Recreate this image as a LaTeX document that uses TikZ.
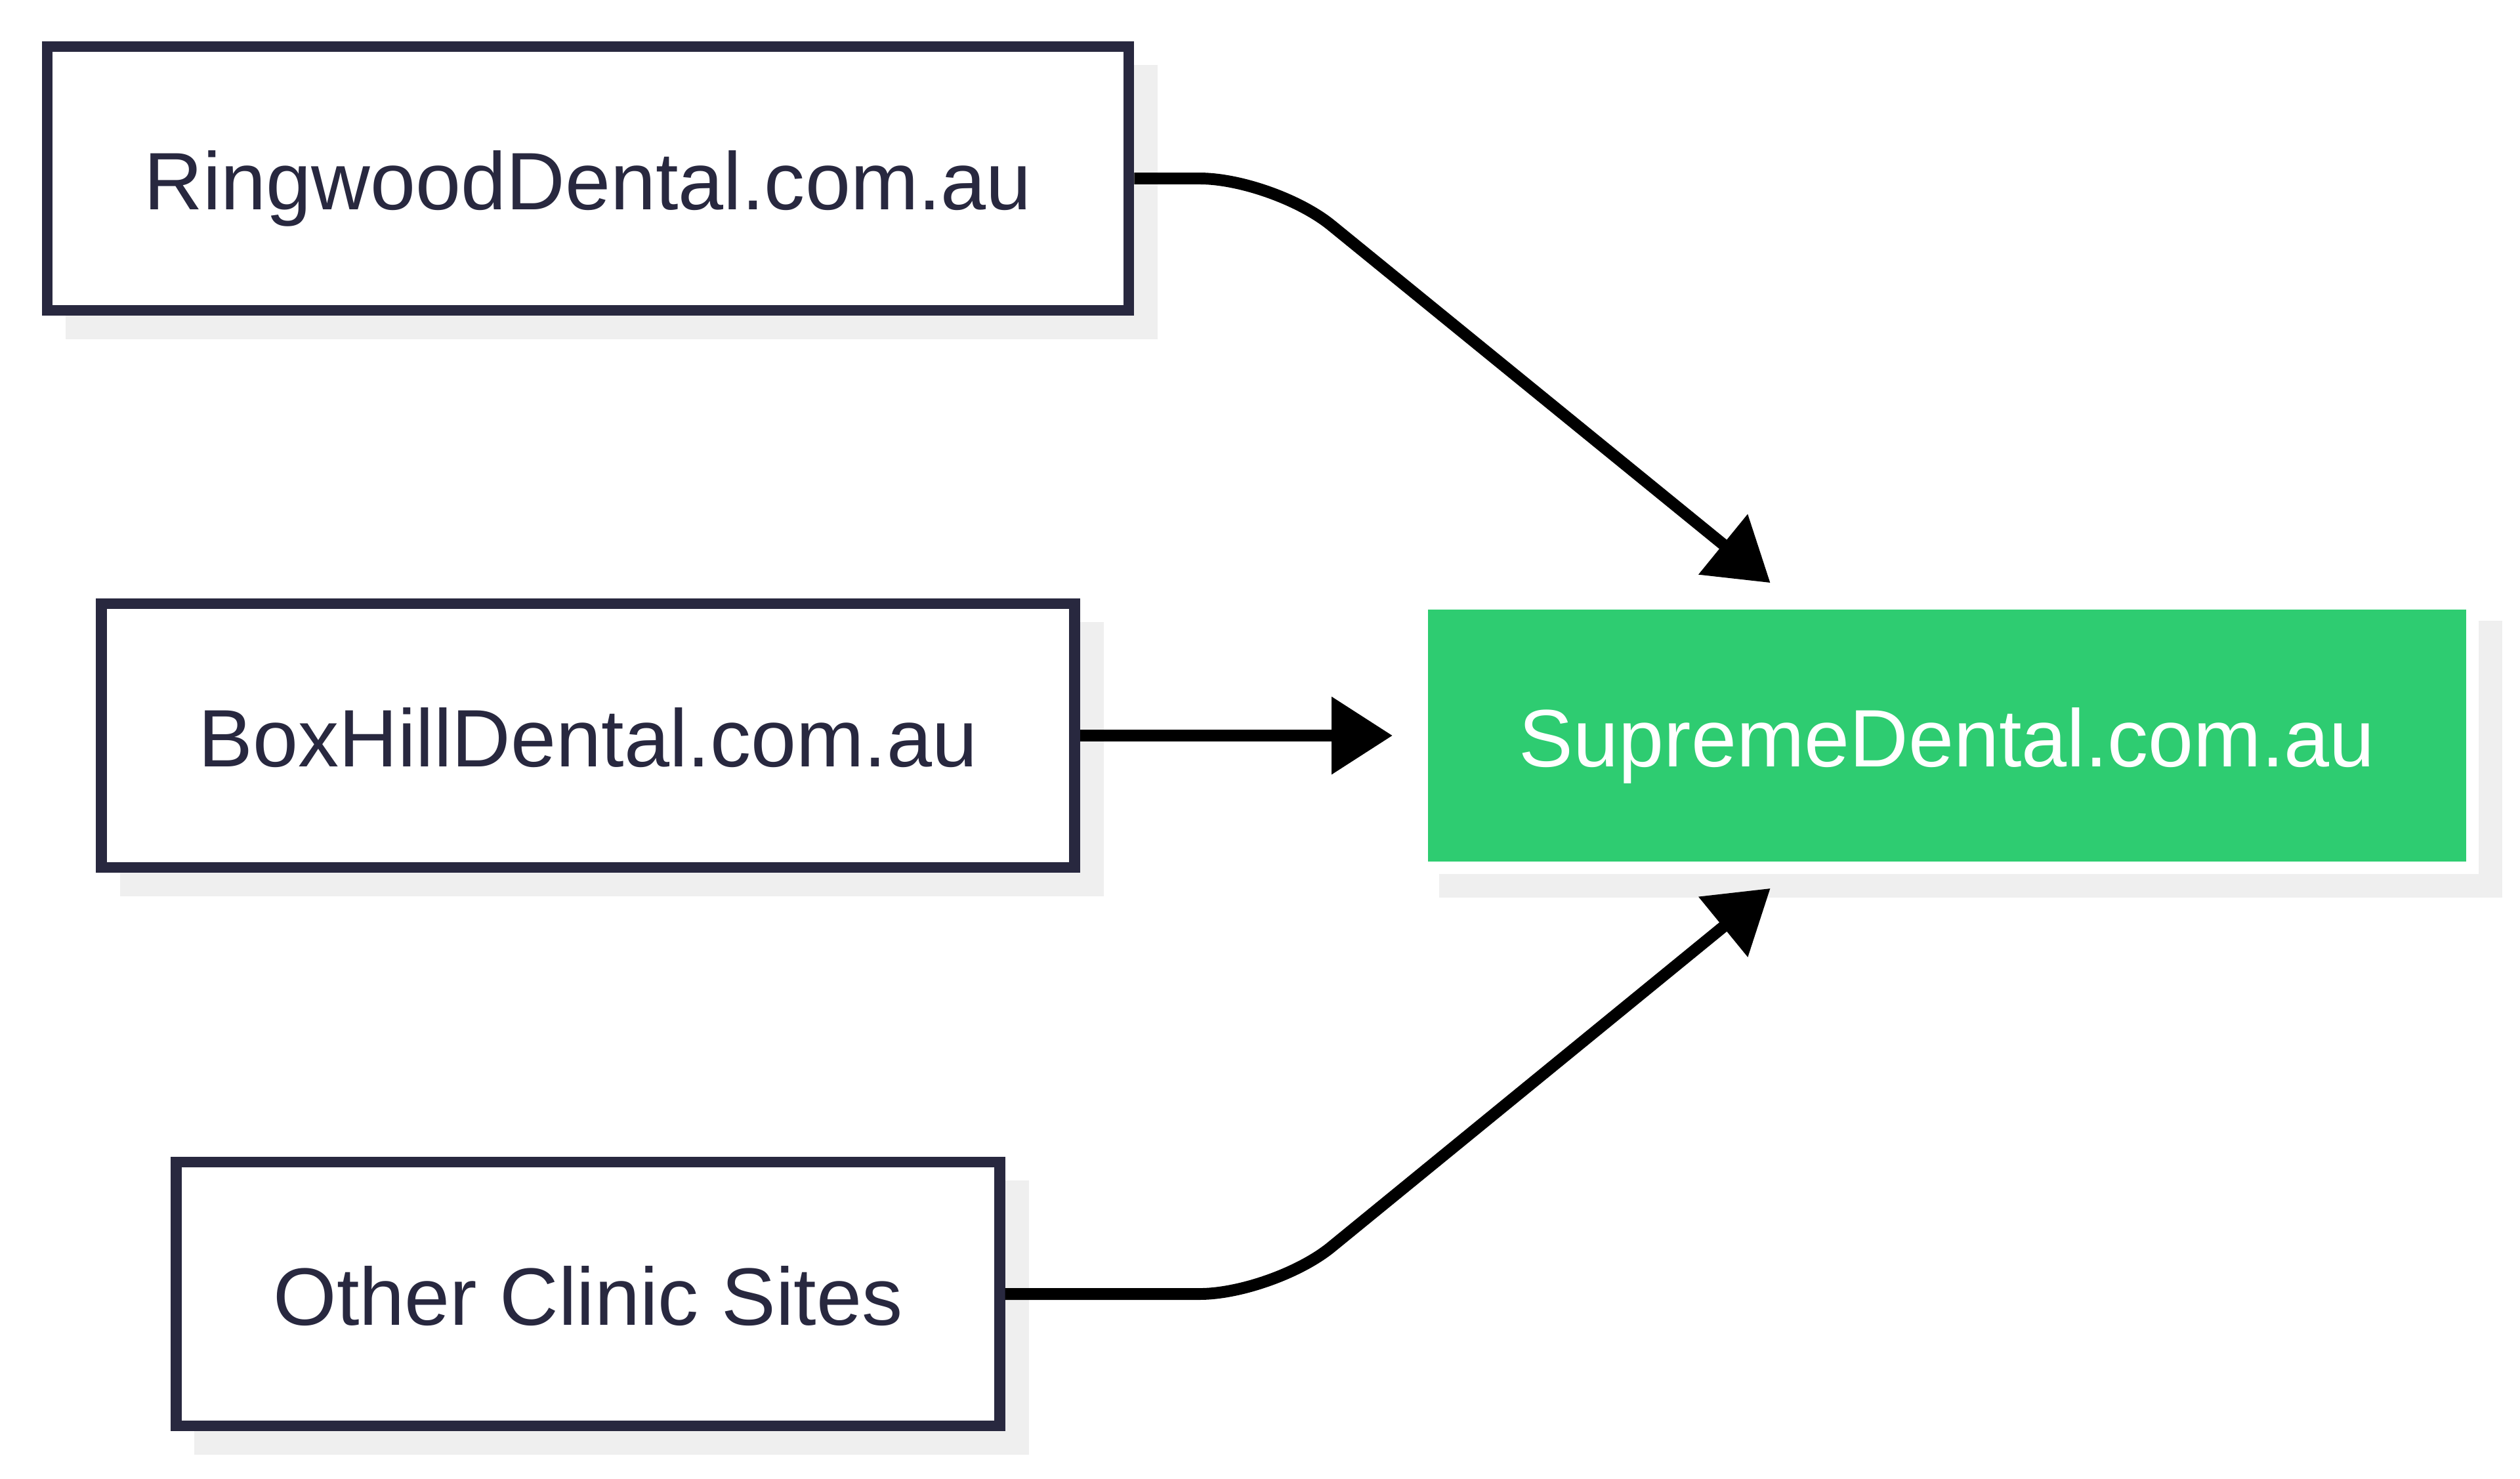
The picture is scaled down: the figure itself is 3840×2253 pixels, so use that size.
\documentclass[tikz,border=0pt]{standalone}
\usepackage{fontspec}
\setmainfont{Liberation Sans}
\usetikzlibrary{arrows.meta,shadows}
\definecolor{ink}{HTML}{28283F}
\definecolor{leaf}{HTML}{2ECC71}
\definecolor{shade}{HTML}{EFEFEF}
\begin{document}
\begin{tikzpicture}[x=0.01cm, y=-0.01cm,
    site/.style={draw=ink, fill=white, line width=4.6pt, text=ink,
        minimum height=4.02cm, inner xsep=1.48cm,
        font=\fontsize{35.3}{42}\selectfont, text height=33.5pt, text depth=6.7pt,
        drop shadow={shadow xshift=.36cm, shadow yshift=-.36cm, opacity=1, fill=shade, draw=shade}},
    main/.style={site, draw=white, fill=leaf, text=white, line width=5.4pt, minimum width=16cm},
    link/.style={-{Triangle[length=.93cm,width=1.14cm]}, line width=5.1pt,
        rounded corners=1.13cm, shorten >=.35cm}]
    \useasboundingbox (0,0) rectangle (3840,2253);
    \node[site] (ring) at (896,272) {RingwoodDental.com.au};
    \node[site] (boxhill) at (896,1121) {BoxHillDental.com.au};
    \node[site] (other) at (896,1972) {Other Clinic Sites};
    \node[main] (supreme) at (2967,1121) {SupremeDental.com.au};
    \coordinate (elbow) at (1941,1121);
    \draw[link] (ring.east) -- (ring.east -| elbow) -- ([xshift=-2.42cm]supreme.north);
    \draw[link] (boxhill.east) -- (supreme.west);
    \draw[link] (other.east) -- (other.east -| elbow) -- ([xshift=-2.42cm]supreme.south);
\end{tikzpicture}
\end{document}
